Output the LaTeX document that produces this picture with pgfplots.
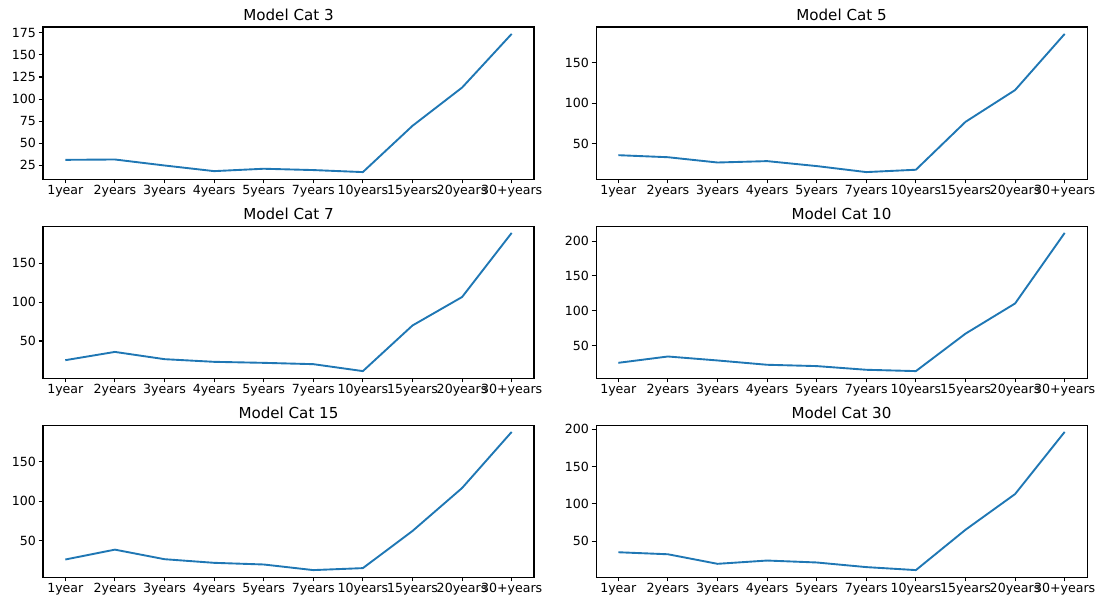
\documentclass[border=0pt]{standalone}
\usepackage{pgfplots}
\pgfplotsset{compat=1.18}
\usepackage{fontspec}
\setmainfont{DejaVu Sans}
\definecolor{mplblue}{RGB}{31,119,180}
\pgfplotsset{
  panel/.style={
    scale only axis=true,
    width=389.85pt, height=120.69pt,
    xmin=-0.45, xmax=9.45,
    xtick={0,1,2,3,4,5,6,7,8,9},
    xticklabels={1year,2years,3years,4years,5years,7years,10years,15years,20years,30+years},
    tick align=outside, xtick pos=bottom, ytick pos=left,
    major tick length=3.5pt,
    every tick/.style={black, line width=0.8pt},
    axis line style={black, line width=0.8pt},
    tick label style={font=\fontsize{10}{12}\selectfont, black},
    xticklabel style={inner sep=1pt},
    yticklabel style={/pgf/number format/assume math mode=true, inner sep=2pt},
    title style={font=\fontsize{12}{14}\selectfont, inner sep=2pt, yshift=-3pt},
    scaled y ticks=false,
  },
  series/.style={color=mplblue, line width=1.5pt, mark=none, line join=round},
}
\begin{document}
\begin{tikzpicture}
\path[use as bounding box] (0,0) rectangle (872.6pt,477.2pt);
% Row 1
\begin{axis}[panel, at={(34.14pt,335.07pt)}, anchor=south west, title={Model Cat 3},
  ymin=9.26, ymax=181.74, ytick={25,50,75,100,125,150,175}]
\addplot[series] coordinates {(0,31.0) (1,31.4) (2,24.6) (3,18.2) (4,20.9) (5,19.4) (6,17.1) (7,69.6) (8,113.0) (9,173.9)};
\end{axis}
\begin{axis}[panel, at={(473.22pt,335.07pt)}, anchor=south west, title={Model Cat 5},
  ymin=6.9, ymax=193.9, ytick={50,100,150}]
\addplot[series] coordinates {(0,36.2) (1,33.7) (2,27.2) (3,28.9) (4,22.8) (5,15.4) (6,18.3) (7,77.2) (8,116.3) (9,185.4)};
\end{axis}
% Row 2
\begin{axis}[panel, at={(34.14pt,177.06pt)}, anchor=south west, title={Model Cat 7},
  ymin=2.54, ymax=197.46, ytick={50,100,150}]
\addplot[series] coordinates {(0,25.4) (1,36.0) (2,26.7) (3,23.3) (4,22.0) (5,20.3) (6,11.4) (7,69.9) (8,106.4) (9,188.6)};
\end{axis}
\begin{axis}[panel, at={(473.22pt,177.06pt)}, anchor=south west, title={Model Cat 10},
  ymin=3.37, ymax=221.83, ytick={50,100,150,200}]
\addplot[series] coordinates {(0,25.2) (1,34.3) (2,28.6) (3,22.4) (4,20.5) (5,15.2) (6,13.3) (7,67.1) (8,110.5) (9,211.9)};
\end{axis}
% Row 3
\begin{axis}[panel, at={(34.14pt,19.06pt)}, anchor=south west, title={Model Cat 15},
  ymin=4.05, ymax=196.45, ytick={50,100,150}]
\addplot[series] coordinates {(0,26.2) (1,38.7) (2,26.6) (3,22.0) (4,19.9) (5,12.8) (6,15.3) (7,62.3) (8,116.7) (9,187.7)};
\end{axis}
\begin{axis}[panel, at={(473.22pt,19.06pt)}, anchor=south west, title={Model Cat 30},
  ymin=2.25, ymax=205.75, ytick={50,100,150,200}]
\addplot[series] coordinates {(0,35.4) (1,32.7) (2,19.9) (3,24.3) (4,21.7) (5,15.5) (6,11.5) (7,65.5) (8,113.3) (9,196.5)};
\end{axis}
\end{tikzpicture}
\end{document}
